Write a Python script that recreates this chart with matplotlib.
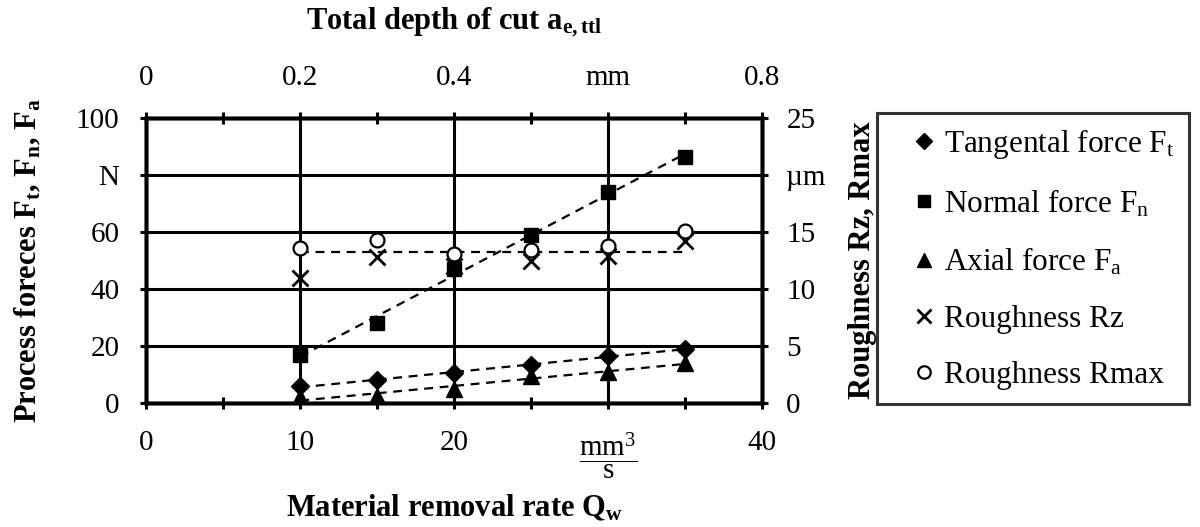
import numpy as np
import matplotlib
matplotlib.use('Agg')
import matplotlib.pyplot as plt

plt.rcParams['font.family'] = 'Liberation Serif'
plt.rcParams['mathtext.fontset'] = 'custom'
plt.rcParams['mathtext.rm'] = 'Liberation Serif'
plt.rcParams['mathtext.it'] = 'Liberation Serif:italic'
plt.rcParams['mathtext.bf'] = 'Liberation Serif:bold'

# data
q_w = [10, 15, 20, 25, 30, 35]                   # mm^3/s
f_t = [6, 8, 10.5, 13.5, 16.5, 19]               # N
f_n = [17, 28, 47, 59, 74, 86.5]                 # N
f_a = [2, 2.5, 5, 9.5, 11, 14]                   # N
rz = [11, 12.8, 12, 12.5, 12.9, 14.2]            # um
rmax = [13.6, 14.3, 13.1, 13.4, 13.8, 15.1]      # um

x_ticks = [0, 10, 20, 30, 40]
x_labels = ['0', '10', '20', r'$\dfrac{\mathrm{mm^3}}{\mathrm{s}}$', '40']
top_ticks = [0, 0.2, 0.4, 0.6, 0.8]
top_labels = ['0', '0.2', '0.4', 'mm', '0.8']
f_ticks = [0, 20, 40, 60, 80, 100]
f_labels = ['0', '20', '40', '60', 'N', '100']
r_ticks = [0, 5, 10, 15, 20, 25]
r_labels = ['0', '5', '10', '15', 'µm', '25']

FS = 21       # tick labels
LFS = 22      # axis labels
LW = 2.2

fig = plt.figure(figsize=(12, 5.27), dpi=100)
ax = fig.add_axes([0.122, 0.235, 0.513, 0.541])
ax.set_xlim(0, 40)
ax.set_ylim(0, 100)
ax2 = ax.twinx()
ax2.set_ylim(0, 25)
ax3 = ax.twiny()
ax3.set_xlim(0, 0.8)

ax.grid(True, color='black', lw=LW)
ax.set_xticks(x_ticks)
ax.set_xticklabels(x_labels)
ax.set_xticks([5, 15, 25, 35], minor=True)
ax.set_yticks(f_ticks)
ax.set_yticklabels(f_labels)
ax2.set_yticks(r_ticks)
ax2.set_yticklabels(r_labels)
ax3.set_xticks(top_ticks)
ax3.set_xticklabels(top_labels)
ax3.set_xticks([0.1, 0.3, 0.5, 0.7], minor=True)

for a in (ax, ax2, ax3):
    for sp in a.spines.values():
        sp.set_linewidth(LW + 0.3)
    a.tick_params(which='both', direction='inout', length=9, width=LW,
                  labelsize=FS)
ax.tick_params(axis='y', pad=15)
ax.tick_params(axis='x', pad=15)
ax2.tick_params(axis='y', pad=13)
ax3.tick_params(axis='x', pad=15)

xs = np.array(q_w, dtype=float)
# trend lines
for ys in (f_t, f_n, f_a):
    k, d = np.polyfit(xs, ys, 1)
    ax.plot(xs[[0, -1]], k * xs[[0, -1]] + d, ls=(0, (4, 3)), color='black', lw=1.6)
r_mean = np.mean(rz + rmax)
ax2.plot(xs[[0, -1]], [r_mean, r_mean], ls=(0, (4, 3)), color='black', lw=1.6)

h1, = ax.plot(q_w, f_t, 'D', color='black', ms=9, ls='none',
              label=r'Tangental force $\mathrm{F_t}$')
h2, = ax.plot(q_w, f_n, 's', color='black', ms=10, ls='none',
              label=r'Normal force $\mathrm{F_n}$')
h3, = ax.plot(q_w, f_a, '^', color='black', ms=11, ls='none',
              label=r'Axial force $\mathrm{F_a}$')
h4, = ax2.plot(q_w, rz, 'x', color='black', ms=11, mew=2, ls='none',
               label='Roughness Rz')
h5, = ax2.plot(q_w, rmax, 'o', color='black', mfc='white', ms=10, mew=1.6,
               ls='none', label='Roughness Rmax')

ax.set_ylabel(r'Process foreces $\mathbf{F_t}$, $\mathbf{F_n}$, $\mathbf{F_a}$',
              fontsize=LFS, fontweight='bold', labelpad=23)
ax2.set_ylabel('Roughness Rz, Rmax', fontsize=LFS, fontweight='bold',
               rotation=90, labelpad=16)
ax.set_xlabel(r'Material removal rate $\mathbf{Q_w}$', fontsize=LFS,
              fontweight='bold', labelpad=8)
ax3.set_xlabel(r'Total depth of cut $\mathbf{a_{e,ttl}}$', fontsize=LFS,
               fontweight='bold', labelpad=26)

leg = fig.legend(handles=[h1, h2, h3, h4, h5], loc='upper left',
                 bbox_to_anchor=(877 / 1200, 1 - 113 / 527), fontsize=22.5,
                 frameon=True, fancybox=False, labelspacing=0.86,
                 handletextpad=-0.4, handlelength=2.1, borderpad=0.45,
                 borderaxespad=0, markerscale=0.9)
leg.get_frame().set_edgecolor('black')
leg.get_frame().set_linewidth(2.2)

fig.savefig('out.png', dpi=100)
